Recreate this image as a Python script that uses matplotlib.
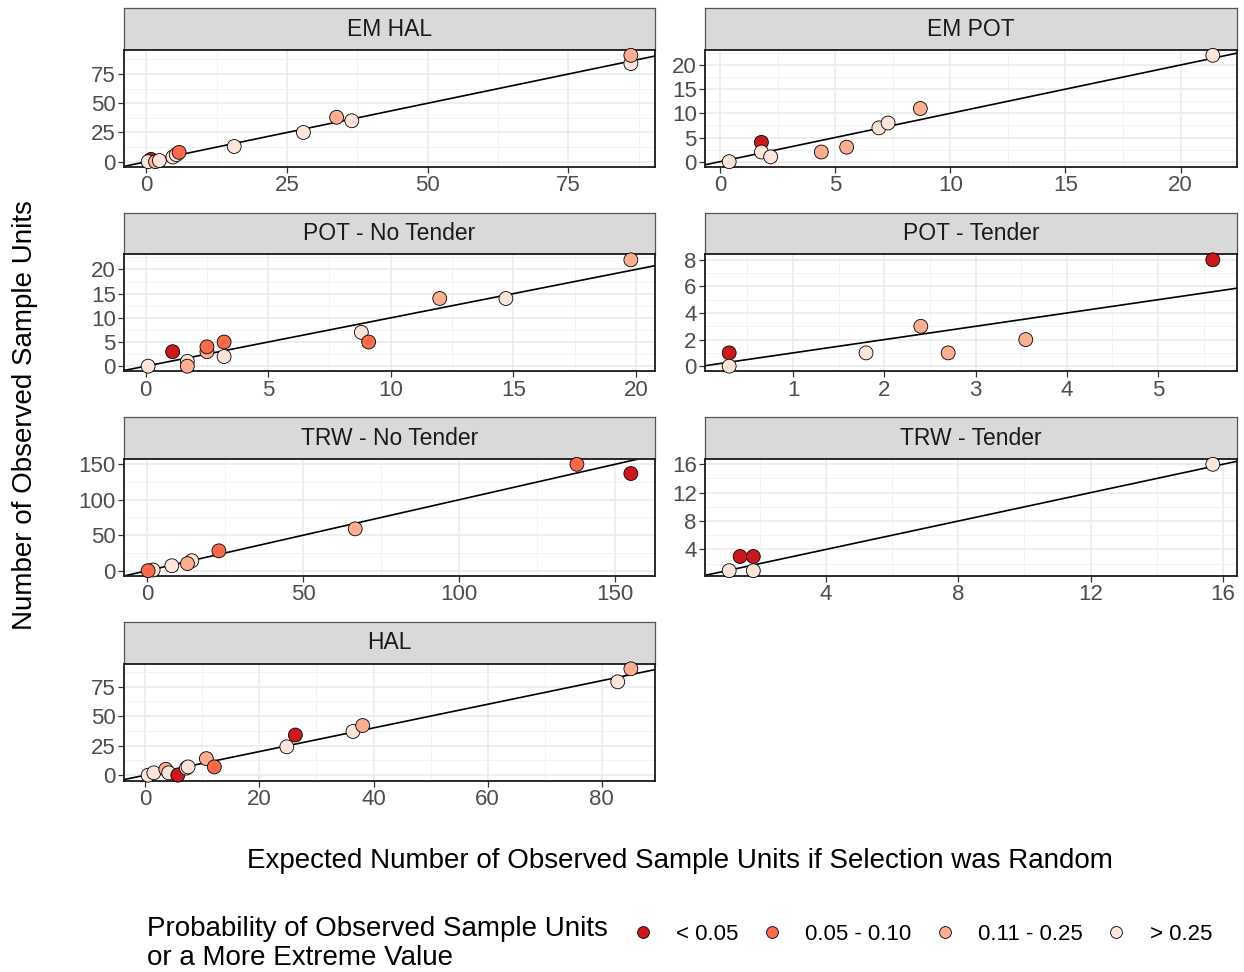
import matplotlib
matplotlib.use("Agg")
import matplotlib.pyplot as plt
from matplotlib.ticker import MultipleLocator
from matplotlib.lines import Line2D

plt.rcParams['font.family'] = ['Liberation Sans', 'DejaVu Sans']

# ---- data -------------------------------------------------------------
panels = ["EM HAL", "EM POT", "POT - No Tender", "POT - Tender",
          "TRW - No Tender", "TRW - Tender", "HAL"]

classes = ["< 0.05", "0.05 - 0.10", "0.11 - 0.25", "> 0.25"]
class_colors = ["#CB181D", "#FB6A4A", "#FCAE91", "#FEE5D9"]

em_hal_x = [0.8, 0.3, 1.6, 2.3, 4.7, 5.3, 5.8, 15.6, 27.9, 33.8, 36.5, 86.1, 86.1]
em_hal_y = [2, 0, 0, 1, 4, 6, 8, 13, 25, 38, 35, 84, 91]
em_hal_p = ["< 0.05", "> 0.25", "0.11 - 0.25", "> 0.25", "> 0.25", "> 0.25",
            "0.05 - 0.10", "> 0.25", "> 0.25", "0.11 - 0.25", "> 0.25", "> 0.25",
            "0.11 - 0.25"]

em_pot_x = [0.4, 1.8, 1.8, 2.2, 4.4, 5.5, 6.9, 7.3, 8.7, 21.4]
em_pot_y = [0, 4, 2, 1, 2, 3, 7, 8, 11, 22]
em_pot_p = ["> 0.25", "< 0.05", "> 0.25", "> 0.25", "0.11 - 0.25", "0.11 - 0.25",
            "> 0.25", "> 0.25", "0.11 - 0.25", "> 0.25"]

pot_nt_x = [0.1, 1.1, 1.7, 1.7, 2.5, 2.5, 3.2, 3.2, 8.8, 9.1, 12.0, 14.7, 19.8]
pot_nt_y = [0, 3, 1, 0, 3, 4, 5, 2, 7, 5, 14, 14, 22]
pot_nt_p = ["> 0.25", "< 0.05", "> 0.25", "0.11 - 0.25", "0.11 - 0.25", "0.05 - 0.10",
            "0.05 - 0.10", "> 0.25", "> 0.25", "0.05 - 0.10", "0.11 - 0.25", "> 0.25",
            "0.11 - 0.25"]

pot_t_x = [0.3, 0.3, 1.8, 2.4, 2.7, 3.55, 5.6]
pot_t_y = [1, 0, 1, 3, 1, 2, 8]
pot_t_p = ["< 0.05", "> 0.25", "> 0.25", "0.11 - 0.25", "0.11 - 0.25", "0.11 - 0.25",
           "< 0.05"]

trw_nt_x = [1.9, 0.3, 7.9, 14.3, 12.9, 23.0, 66.7, 137.8, 155.1]
trw_nt_y = [1, 0, 7, 14, 10, 28, 59, 150, 137]
trw_nt_p = ["> 0.25", "0.05 - 0.10", "> 0.25", "> 0.25", "0.11 - 0.25", "0.05 - 0.10",
            "0.11 - 0.25", "0.05 - 0.10", "< 0.05"]

trw_t_x = [1.07, 1.4, 1.8, 1.8, 15.7]
trw_t_y = [1, 3, 3, 1, 16]
trw_t_p = ["> 0.25", "< 0.05", "< 0.05", "> 0.25", "> 0.25"]

hal_x = [0.5, 1.5, 3.6, 4.1, 5.7, 7.2, 7.5, 10.7, 12.1, 24.8, 26.3, 36.4, 38.1, 82.8, 85.1]
hal_y = [0, 2, 5, 2, 0, 6, 7, 14, 7, 24, 34, 37, 42, 79, 90]
hal_p = ["> 0.25", "> 0.25", "0.11 - 0.25", "> 0.25", "< 0.05", "> 0.25", "> 0.25",
         "0.11 - 0.25", "0.05 - 0.10", "> 0.25", "< 0.05", "> 0.25", "0.11 - 0.25",
         "> 0.25", "0.11 - 0.25"]

panel_data = {
    "EM HAL": (em_hal_x, em_hal_y, em_hal_p),
    "EM POT": (em_pot_x, em_pot_y, em_pot_p),
    "POT - No Tender": (pot_nt_x, pot_nt_y, pot_nt_p),
    "POT - Tender": (pot_t_x, pot_t_y, pot_t_p),
    "TRW - No Tender": (trw_nt_x, trw_nt_y, trw_nt_p),
    "TRW - Tender": (trw_t_x, trw_t_y, trw_t_p),
    "HAL": (hal_x, hal_y, hal_p),
}

# major tick spacing (x, y) for each facet
tick_steps = {
    "EM HAL": (25, 25), "EM POT": (5, 5), "POT - No Tender": (5, 5),
    "POT - Tender": (1, 2), "TRW - No Tender": (50, 50), "TRW - Tender": (4, 4),
    "HAL": (20, 25),
}

# ---- layout -----------------------------------------------------------
W, H = 1244, 972
fig = plt.figure(figsize=(W / 100, H / 100), dpi=100)

col_x = [(124, 655), (705, 1237)]
strip_h = 42
panel_h = 117
row_step = 204.5
first_top = 8


def box(x0, y0, x1, y1):
    return [x0 / W, 1 - y1 / H, (x1 - x0) / W, (y1 - y0) / H]


color_of = dict(zip(classes, class_colors))

for i, name in enumerate(panels):
    r, c = divmod(i, 2)
    x0, x1 = col_x[c]
    s_top = first_top + r * row_step
    p_top = s_top + strip_h
    p_bot = p_top + panel_h

    # strip
    sax = fig.add_axes(box(x0, s_top, x1, p_top))
    sax.set_facecolor("#D9D9D9")
    sax.set_xticks([])
    sax.set_yticks([])
    for sp in sax.spines.values():
        sp.set_color("#555555")
        sp.set_linewidth(0.9)
    sax.text(0.5, 0.5, name, ha="center", va="center", fontsize=16.5,
             color="#1A1A1A", transform=sax.transAxes)

    ax = fig.add_axes(box(x0, p_top, x1, p_bot))
    xs, ys, ps = panel_data[name]

    # limits with 5% padding, like ggplot's default continuous expansion
    xmin, xmax = min(xs), max(xs)
    ymin, ymax = min(ys), max(ys)
    dx = (xmax - xmin) * 0.05
    dy = (ymax - ymin) * 0.05
    ax.set_xlim(xmin - dx, xmax + dx)
    ax.set_ylim(ymin - dy, ymax + dy)

    sx, sy = tick_steps[name]
    ax.xaxis.set_major_locator(MultipleLocator(sx))
    ax.xaxis.set_minor_locator(MultipleLocator(sx / 2))
    ax.yaxis.set_major_locator(MultipleLocator(sy))
    ax.yaxis.set_minor_locator(MultipleLocator(sy / 2))

    ax.set_facecolor("white")
    ax.grid(which="major", color="#EBEBEB", linewidth=1.2)
    ax.grid(which="minor", color="#F2F2F2", linewidth=0.7)
    ax.set_axisbelow(True)
    ax.tick_params(which="major", length=4, width=0.9, color="#333333",
                   labelsize=16, labelcolor="#4D4D4D", pad=2)
    ax.tick_params(which="minor", length=0)
    for sp in ax.spines.values():
        sp.set_color("#1A1A1A")
        sp.set_linewidth(1.3)

    ax.axline((0, 0), slope=1, color="black", linewidth=1.2, zorder=2)
    ax.scatter(xs, ys, c=[color_of[p] for p in ps], s=100, edgecolors="black",
               linewidths=0.6, zorder=3, clip_on=False)

# axis titles
fig.text(25 / W, 1 - 415 / H, "Number of Observed Sample Units", rotation=90,
         ha="center", va="center", fontsize=20, color="black")
fig.text(680 / W, 1 - 861 / H,
         "Expected Number of Observed Sample Units if Selection was Random",
         ha="center", va="center", fontsize=20, color="black")

# legend
fig.text(147 / W, 1 - 943 / H,
         "Probability of Observed Sample Units\nor a More Extreme Value",
         ha="left", va="center", fontsize=20, color="black", linespacing=1.15)
handles = [Line2D([], [], linestyle="none", marker="o", markersize=8.5,
                  markerfacecolor=col, markeredgecolor="black",
                  markeredgewidth=0.6) for col in class_colors]
fig.legend(handles, classes, loc="center left",
           bbox_to_anchor=(632 / W, 1 - 934 / H), ncol=4, frameon=False,
           fontsize=16, handletextpad=1.0, columnspacing=1.0, handlelength=1.0,
           borderpad=0, borderaxespad=0)

fig.savefig("out.png", dpi=100)
